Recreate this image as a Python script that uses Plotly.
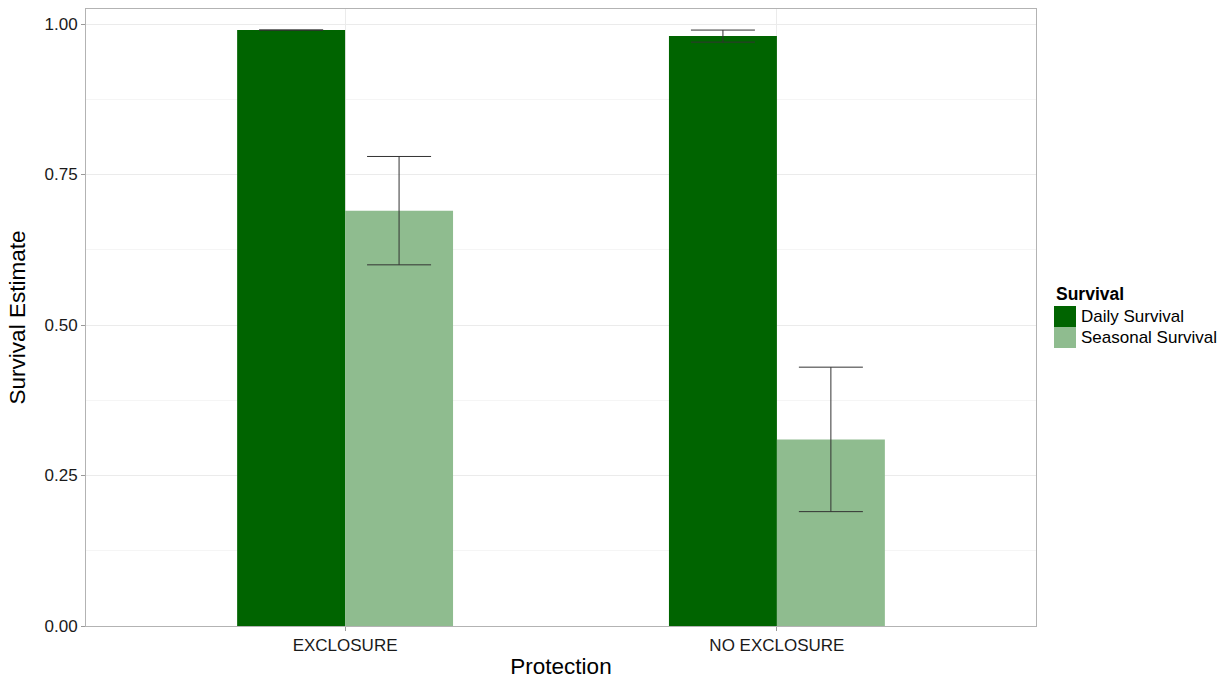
import plotly.graph_objects as go

# Survival estimates by nest protection
protection = ["EXCLOSURE", "NO EXCLOSURE"]
daily_est = [0.99, 0.98]
daily_lo = [0.99, 0.97]
daily_hi = [0.99, 0.99]
seasonal_est = [0.69, 0.31]
seasonal_lo = [0.60, 0.19]
seasonal_hi = [0.78, 0.43]

series_names = ["Daily Survival", "Seasonal Survival"]
series_colors = ["#006400", "#8FBC8F"]

y_ticks = [0.0, 0.25, 0.50, 0.75, 1.00]
y_ticklabels = ["0.00", "0.25", "0.50", "0.75", "1.00"]

FONT = "Liberation Sans, Arial, sans-serif"
W, H = 1223, 679
ML, MR, MT, MB = 86, 187, 9, 53
PW, PH = W - ML - MR, H - MT - MB


def px_x(x):
    return (x - ML) / PW


def px_y(y):
    return (H - MB - y) / PH


def err(est, lo, hi):
    return dict(
        type="data",
        symmetric=False,
        array=[h - e for e, h in zip(est, hi)],
        arrayminus=[e - l for e, l in zip(est, lo)],
        color="#333333",
        thickness=1,
        width=32,
    )


fig = go.Figure()
for name, color, est, lo, hi in [
    (series_names[0], series_colors[0], daily_est, daily_lo, daily_hi),
    (series_names[1], series_colors[1], seasonal_est, seasonal_lo, seasonal_hi),
]:
    fig.add_trace(go.Bar(
        x=protection, y=est, name=name, showlegend=False,
        marker=dict(color=color, line=dict(width=0)),
        error_y=err(est, lo, hi),
    ))

# Legend drawn as ggplot-style keys: contiguous filled squares with labels
shapes = []
annotations = [dict(
    text="<b>Survival</b>", xref="paper", yref="paper",
    x=px_x(1054), y=px_y(294), xanchor="left", yanchor="middle",
    showarrow=False, font=dict(size=17.5, color="#000"),
)]
key_top, key_size = 306, 21
for i, (name, color) in enumerate(zip(series_names, series_colors)):
    y0 = key_top + i * key_size
    shapes.append(dict(
        type="rect", xref="paper", yref="paper",
        x0=px_x(1054), x1=px_x(1054 + 22),
        y0=px_y(y0 + key_size), y1=px_y(y0),
        fillcolor=color, line=dict(width=0), layer="above",
    ))
    annotations.append(dict(
        text=name, xref="paper", yref="paper",
        x=px_x(1079), y=px_y(y0 + key_size / 2), xanchor="left", yanchor="middle",
        showarrow=False, font=dict(size=17, color="#000"),
    ))

fig.update_layout(
    width=W, height=H,
    margin=dict(l=ML, r=MR, t=MT, b=MB, autoexpand=False),
    paper_bgcolor="white", plot_bgcolor="white",
    barmode="group", bargap=0.5, bargroupgap=0,
    font=dict(family=FONT, color="#000000"),
    showlegend=False,
    shapes=shapes, annotations=annotations,
    xaxis=dict(
        title=dict(text="Protection", font=dict(size=22.5), standoff=6),
        range=[-0.6, 1.6],
        showgrid=True, gridcolor="#EBEBEB", gridwidth=1,
        ticks="outside", ticklen=4, tickcolor="#999999",
        tickfont=dict(size=17, color="#1a1a1a"),
        showline=True, linecolor="#B3B3B3", linewidth=1, mirror=True,
        zeroline=False, automargin=False,
    ),
    yaxis=dict(
        title=dict(text="Survival Estimate", font=dict(size=22.5), standoff=12),
        range=[0, 1.025],
        tickvals=y_ticks, ticktext=y_ticklabels,
        showgrid=True, gridcolor="#EBEBEB", gridwidth=1,
        minor=dict(showgrid=True, gridcolor="#F5F5F5", dtick=0.125, tick0=0),
        ticks="outside", ticklen=4, tickcolor="#999999",
        tickfont=dict(size=17, color="#1a1a1a"),
        showline=True, linecolor="#B3B3B3", linewidth=1, mirror=True,
        zeroline=False, automargin=False,
    ),
)

fig.write_html("out.html")
